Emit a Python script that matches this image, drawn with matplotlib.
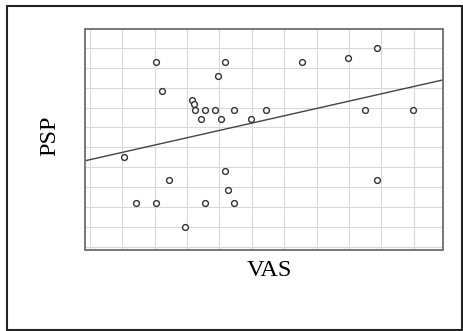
import numpy as np
import matplotlib
matplotlib.use('Agg')
import matplotlib.pyplot as plt
from matplotlib.patches import Rectangle

# VAS score vs PSP score for each subject
vas = [2.03, 4.16, 6.55, 7.96, 8.87, 3.95, 2.24, 3.14, 3.22, 3.25,
       3.55, 3.85, 4.45, 5.45, 3.44, 4.04, 4.96, 8.48, 9.98, 1.04,
       4.16, 2.45, 8.87, 4.25, 1.42, 2.03, 3.55, 4.45, 2.94]
psp = [9.28, 9.28, 9.28, 9.49, 9.98, 8.57, 7.85, 7.40, 7.17, 6.90,
       6.90, 6.90, 6.90, 6.90, 6.44, 6.44, 6.44, 6.90, 6.90, 4.53,
       3.83, 3.36, 3.36, 2.87, 2.19, 2.19, 2.19, 2.19, 1.00]

# linear fit PSP = a + b * VAS
fit_intercept = 4.38
fit_slope = 0.368

plt.rcParams['font.family'] = ['Liberation Serif', 'DejaVu Serif']

fig = plt.figure(figsize=(4.63, 3.31), dpi=100)
fig.patch.set_facecolor('white')
ax = fig.add_axes([0.1836, 0.2447, 0.7732, 0.6677])

xlim = (-0.15, 10.9)
ylim = (-0.16, 10.95)

ax.set_xticks(np.arange(0, 11))
ax.set_yticks(np.arange(0, 12))
ax.grid(True, color='#d9d9d9', lw=0.8)
ax.set_axisbelow(True)
ax.tick_params(length=0, labelbottom=False, labelleft=False)

ax.plot(vas, psp, 'o', ms=4.2, mfc='white', mec='#333333', mew=1.0, zorder=3)

xs = np.array(xlim)
ax.plot(xs, fit_intercept + fit_slope * xs, color='#444444', lw=1.0, zorder=2)

ax.set_xlim(*xlim)
ax.set_ylim(*ylim)
for s in ax.spines.values():
    s.set_color('#777777')
    s.set_linewidth(1.4)

fig.text(0.581, 0.166, 'VAS', fontsize=17.5, ha='center', va='baseline')
fig.text(0.108, 0.589, 'PSP', fontsize=17.5, rotation=90, ha='center', va='center')

# outer border around the whole panel
fig.patches.append(Rectangle((0.0151, 0.003), 0.983, 0.979, transform=fig.transFigure,
                             fill=False, ec='#222222', lw=1.5))

fig.savefig('out.png', dpi=100, facecolor='white')
